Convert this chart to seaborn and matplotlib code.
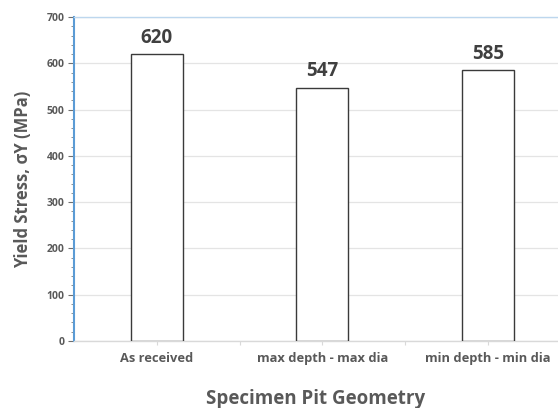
import matplotlib
matplotlib.use("Agg")
import matplotlib.pyplot as plt
import seaborn as sns
import pandas as pd
from matplotlib.ticker import MultipleLocator, FixedLocator

categories = ["As received", "max depth - max dia", "min depth - min dia"]
yield_stress = [620, 547, 585]
bar_labels = ["620", "547", "585"]

df = pd.DataFrame({"Geometry": categories, "Yield": yield_stress})

sns.set_theme(style="white")
plt.rcParams['font.family'] = ['Open Sans', 'DejaVu Sans']

fig = plt.figure(figsize=(5.58, 4.08), dpi=100)
ax = fig.add_axes([74/558, 67/408, 1 - 74/558, (340-16)/408])

sns.barplot(data=df, x="Geometry", y="Yield", ax=ax, color="white",
            edgecolor="#3a3a3a", linewidth=1.0, width=0.315, zorder=3)

ax.set_ylim(0, 700)
ax.set_xlim(-0.5, 2.424)
ax.yaxis.set_major_locator(MultipleLocator(100))
ax.yaxis.set_minor_locator(MultipleLocator(20))
ax.grid(axis="y", color="#e4e4e4", linewidth=0.9, zorder=0)
ax.set_axisbelow(True)

for i, (v, lab) in enumerate(zip(yield_stress, bar_labels)):
    ax.text(i, v + 14, lab, ha="center", va="bottom", fontsize=13.5,
            fontweight="bold", color="#404040")

for s in ["left", "top"]:
    ax.spines[s].set_visible(True)
ax.spines["left"].set_color("#5b9bd5")
ax.spines["left"].set_linewidth(1.5)
ax.spines["top"].set_color("#bdd7ee")
ax.spines["top"].set_linewidth(1.0)
ax.spines["bottom"].set_color("#d9d9d9")
ax.spines["bottom"].set_linewidth(1.0)
ax.spines["right"].set_visible(False)

ax.tick_params(axis="y", which="major", direction="out", length=4, width=0.8,
               color="#6f6f6f", labelsize=7.5, labelcolor="#595959", left=True, pad=3)
ax.tick_params(axis="y", which="minor", direction="out", length=2.5, width=0.6,
               color="#7f7f7f", left=True)
for t in ax.get_yticklabels():
    t.set_fontweight("bold")

ax.xaxis.set_minor_locator(FixedLocator([0.5, 1.5]))
ax.tick_params(axis="x", which="major", direction="out", length=3, width=0.8,
               color="#d9d9d9", labelsize=9.3, labelcolor="#595959", bottom=True, pad=5)
ax.tick_params(axis="x", which="minor", direction="out", length=3, width=0.8,
               color="#d9d9d9", bottom=True)
for t in ax.get_xticklabels():
    t.set_fontweight("bold")

ax.set_xlabel("Specimen Pit Geometry", fontsize=13.5, fontweight="bold",
              color="#595959", labelpad=17)
ax.set_ylabel("Yield Stress, σY (MPa)", fontsize=12, fontweight="bold",
              color="#595959", labelpad=10)

fig.savefig("out.png", dpi=100)
